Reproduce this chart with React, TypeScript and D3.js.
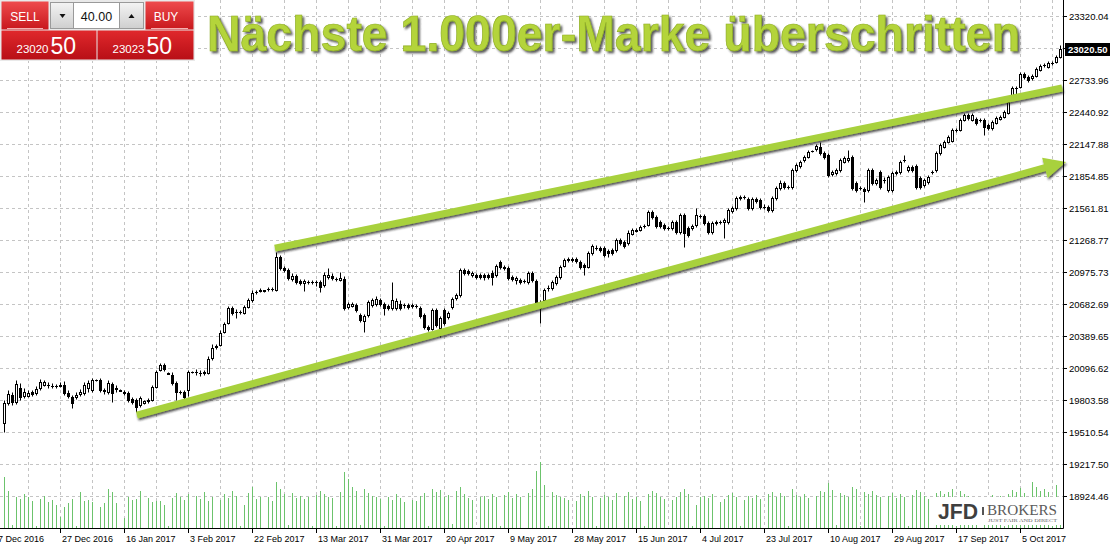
'use client';

import React, { useEffect, useRef } from 'react';
import * as d3 from 'd3';

// Daily bars (broker server days, Sunday sessions included), 8 Dec 2016 .. 17 Oct 2017
const opens = [
  19593, 19776, 19849, 19785, 19913, 19840, 19840, 19877, 19868, 19913,
  19941, 19941, 19932, 19932, 19932, 19941, 19868, 19831, 19831, 19859,
  19868, 19913, 19895, 19985, 19987, 19895, 19877, 19950, 19913, 19890,
  19877, 19868, 19813, 19804, 19758, 19780, 19795, 19804, 19923, 20078,
  20124, 20050, 20032, 19959, 19877, 19877, 19895, 20058, 20060, 20051,
  20051, 20051, 20188, 20298, 20307, 20426, 20509, 20646, 20610, 20610,
  20600, 20655, 20719, 20793, 20802, 20800, 20820, 20820, 20811, 21113,
  21012, 20994, 20912, 20939, 20893, 20875, 20884, 20884, 20884, 20884,
  20857, 20930, 20939, 20912, 20903, 20912, 20655, 20664, 20674, 20582,
  20527, 20582, 20674, 20683, 20719, 20683, 20664, 20646, 20646, 20683,
  20674, 20674, 20674, 20664, 20646, 20582, 20472, 20454, 20628, 20463,
  20628, 20564, 20655, 20738, 20765, 20994, 20985, 20948, 20948, 20948,
  20948, 20948, 20967, 20948, 21067, 21022, 21012, 20930, 20903, 20903,
  20893, 20884, 20967, 20893, 20701, 20719, 20829, 20829, 20875, 20930,
  21031, 21095, 21095, 21095, 21067, 21040, 21022, 21150, 21196, 21196,
  21196, 21168, 21177, 21177, 21269, 21251, 21241, 21324, 21351, 21360,
  21397, 21406, 21525, 21479, 21434, 21406, 21379, 21379, 21434, 21342,
  21498, 21379, 21379, 21406, 21489, 21489, 21424, 21342, 21424, 21434,
  21434, 21434, 21535, 21562, 21663, 21663, 21644, 21562, 21644, 21635,
  21571, 21571, 21544, 21653, 21745, 21791, 21754, 21754, 21910, 21947,
  22001, 22029, 22080, 22102, 22120, 22066, 22047, 21873, 21882, 21910,
  21983, 22001, 22029, 21791, 21745, 21736, 21727, 21910, 21791, 21892,
  21818, 21727, 21727, 21882, 21892, 22001, 21910, 21937, 21947, 21837,
  21772, 21800, 21892, 21910, 22066, 22120, 22166, 22175, 22276, 22276,
  22368, 22414, 22368, 22377, 22368, 22368, 22322, 22294, 22340, 22377,
  22395, 22432, 22597, 22661, 22670, 22789, 22761, 22752, 22771, 22826,
  22871, 22853, 22890, 22899, 22945,
];
const highs = [
  19804, 19895, 19877, 19987, 19959, 19913, 19895, 19895, 19932, 19996,
  19987, 19968, 19959, 19950, 19968, 19978, 19895, 19849, 19877, 19904,
  19968, 19987, 20005, 19998, 20005, 19913, 19987, 19968, 19941, 19900,
  19895, 19886, 19831, 19822, 19840, 19804, 19822, 19941, 20078, 20142,
  20142, 20060, 20060, 19978, 19895, 19895, 20078, 20070, 20087, 20078,
  20078, 20206, 20316, 20316, 20445, 20518, 20664, 20664, 20637, 20628,
  20674, 20738, 20811, 20811, 20829, 20815, 20838, 20838, 21159, 21132,
  21031, 21012, 20967, 20957, 20912, 20912, 20903, 20903, 20903, 20903,
  20976, 21012, 20967, 20930, 20976, 20939, 20701, 20701, 20692, 20600,
  20591, 20719, 20738, 20756, 20738, 20701, 20683, 20884, 20738, 20719,
  20692, 20692, 20692, 20683, 20664, 20600, 20490, 20646, 20646, 20573,
  20646, 20619, 20747, 20783, 21012, 21012, 21003, 20985, 20967, 20967,
  20967, 20967, 20994, 21049, 21086, 21040, 21031, 20948, 20939, 20921,
  20912, 20985, 20985, 20912, 20719, 20829, 20857, 20903, 20948, 21040,
  21104, 21113, 21113, 21113, 21086, 21058, 21168, 21232, 21223, 21214,
  21214, 21187, 21196, 21287, 21287, 21269, 21360, 21379, 21379, 21406,
  21415, 21544, 21544, 21498, 21452, 21424, 21397, 21452, 21452, 21516,
  21516, 21397, 21415, 21562, 21507, 21507, 21443, 21443, 21452, 21452,
  21470, 21562, 21580, 21672, 21681, 21681, 21663, 21663, 21663, 21653,
  21598, 21589, 21672, 21763, 21818, 21809, 21772, 21928, 21974, 22001,
  22047, 22093, 22095, 22148, 22166, 22084, 22066, 21910, 21928, 22020,
  22038, 22093, 22047, 21809, 21763, 21754, 21928, 21928, 21837, 21910,
  21846, 21864, 21901, 21910, 22001, 22047, 21956, 21956, 21965, 21855,
  21837, 21864, 21910, 22084, 22157, 22185, 22230, 22294, 22294, 22386,
  22432, 22432, 22432, 22395, 22386, 22386, 22340, 22368, 22404, 22414,
  22459, 22551, 22679, 22679, 22807, 22807, 22780, 22789, 22853, 22881,
  22890, 22908, 22908, 22963, 23054,
];
const lows = [
  19511, 19758, 19758, 19767, 19804, 19822, 19831, 19840, 19849, 19895,
  19932, 19913, 19913, 19913, 19923, 19849, 19822, 19730, 19813, 19840,
  19849, 19877, 19877, 19978, 19877, 19859, 19859, 19785, 19877, 19885,
  19849, 19785, 19767, 19694, 19740, 19770, 19776, 19795, 19913, 20069,
  20069, 20038, 19941, 19804, 19859, 19813, 19840, 20050, 20032, 20023,
  20032, 20042, 20170, 20271, 20298, 20417, 20500, 20582, 20555, 20591,
  20591, 20646, 20701, 20774, 20793, 20795, 20802, 20802, 20802, 20994,
  20976, 20903, 20893, 20866, 20857, 20802, 20866, 20866, 20847, 20793,
  20838, 20912, 20903, 20893, 20893, 20628, 20637, 20655, 20610, 20518,
  20426, 20564, 20655, 20664, 20664, 20582, 20628, 20628, 20628, 20628,
  20646, 20637, 20646, 20646, 20555, 20454, 20436, 20445, 20472, 20381,
  20490, 20545, 20637, 20719, 20747, 20948, 20948, 20930, 20912, 20912,
  20903, 20912, 20857, 20930, 21003, 20994, 20903, 20893, 20866, 20866,
  20875, 20866, 20884, 20683, 20509, 20701, 20802, 20811, 20857, 20912,
  21022, 21067, 21067, 21058, 21003, 20948, 21012, 21132, 21177, 21159,
  21113, 21113, 21132, 21159, 21223, 21196, 21223, 21315, 21342, 21351,
  21379, 21397, 21461, 21379, 21379, 21360, 21360, 21360, 21324, 21324,
  21205, 21296, 21360, 21388, 21470, 21406, 21324, 21324, 21406, 21415,
  21287, 21415, 21516, 21544, 21635, 21644, 21544, 21544, 21608, 21553,
  21553, 21525, 21525, 21635, 21727, 21736, 21736, 21736, 21892, 21928,
  21983, 22020, 22075, 22084, 22047, 22010, 21846, 21855, 21864, 21892,
  21974, 21983, 21727, 21708, 21727, 21617, 21708, 21772, 21772, 21736,
  21791, 21708, 21708, 21864, 21873, 21983, 21892, 21892, 21736, 21736,
  21754, 21782, 21873, 21892, 22047, 22111, 22157, 22166, 22258, 22267,
  22359, 22368, 22359, 22322, 22349, 22230, 22276, 22276, 22331, 22368,
  22386, 22423, 22587, 22597, 22661, 22743, 22716, 22734, 22761, 22816,
  22853, 22844, 22871, 22890, 22936,
];
const closes = [
  19776, 19859, 19785, 19950, 19831, 19877, 19868, 19859, 19904, 19968,
  19968, 19944, 19934, 19934, 19941, 19868, 19840, 19776, 19849, 19877,
  19941, 19959, 19987, 19990, 19895, 19886, 19959, 19868, 19904, 19895,
  19868, 19804, 19785, 19740, 19822, 19795, 19804, 19923, 20060, 20124,
  20087, 20045, 19959, 19877, 19880, 19831, 20060, 20062, 20062, 20053,
  20060, 20179, 20280, 20289, 20417, 20500, 20646, 20600, 20612, 20612,
  20655, 20719, 20783, 20795, 20811, 20810, 20822, 20822, 21113, 21012,
  20994, 20921, 20939, 20884, 20875, 20893, 20886, 20886, 20882, 20838,
  20948, 20948, 20921, 20910, 20921, 20646, 20683, 20683, 20628, 20536,
  20573, 20701, 20719, 20729, 20683, 20646, 20646, 20719, 20710, 20646,
  20676, 20655, 20664, 20666, 20573, 20472, 20454, 20628, 20490, 20555,
  20509, 20600, 20729, 20765, 20994, 20967, 20967, 20967, 20930, 20930,
  20930, 20930, 20930, 21031, 21022, 21012, 20921, 20912, 20921, 20884,
  20891, 20967, 20903, 20701, 20646, 20811, 20827, 20884, 20930, 21022,
  21086, 21086, 21086, 21077, 21022, 21022, 21150, 21214, 21194, 21177,
  21132, 21150, 21150, 21269, 21241, 21214, 21333, 21360, 21360, 21388,
  21395, 21525, 21479, 21397, 21397, 21379, 21377, 21434, 21342, 21498,
  21333, 21315, 21397, 21498, 21487, 21424, 21342, 21424, 21434, 21432,
  21452, 21544, 21562, 21653, 21653, 21661, 21562, 21644, 21626, 21571,
  21569, 21544, 21653, 21745, 21791, 21754, 21752, 21910, 21956, 21983,
  22029, 22074, 22088, 22130, 22066, 22029, 21864, 21892, 21910, 22001,
  22020, 22020, 21745, 21727, 21743, 21718, 21910, 21791, 21818, 21754,
  21816, 21846, 21882, 21892, 21983, 22003, 21937, 21910, 21754, 21754,
  21818, 21846, 21894, 22066, 22139, 22166, 22212, 22276, 22278, 22368,
  22414, 22386, 22414, 22340, 22366, 22304, 22294, 22349, 22386, 22395,
  22441, 22532, 22661, 22663, 22789, 22761, 22734, 22771, 22835, 22862,
  22873, 22890, 22892, 22945, 23020.5,
];
// tick volume (thousands)
const volumes = [
  50, 36, 2, 30, 28, 33, 30, 26, 1, 28, 31, 25, 27, 22,
  10, 20, 24, 28, 1, 35, 26, 27, 25, 0, 20, 24, 38, 35, 24, 0,
  9, 30, 27, 28, 36, 0, 29, 25, 26, 26, 22, 1, 29, 34,
  30, 27, 33,
  0, 31, 28, 35, 26, 30,
  0, 27, 33, 29, 36, 31,
  1, 22, 34, 40, 28, 30,
  0, 30, 26, 45, 38, 33,
  2, 34, 29, 31, 28, 30,
  1, 32, 36, 33, 30, 29,
  1, 35, 55, 48, 40, 36,
  2, 38, 34, 31, 30, 28,
  1, 30, 27, 33, 29, 25,
  0, 27, 26, 31, 34,
  1, 38, 35, 37, 30, 32,
  3, 36, 40, 33, 29, 27,
  0, 30, 31, 28, 33, 30,
  1, 32, 35, 29, 33, 30,
  0, 34, 38, 56, 65, 42,
  1, 35, 32, 30, 29, 27,
  0, 26, 33, 31, 36, 30,
  1, 29, 32, 30, 27, 34,
  0, 31, 35, 28, 30, 26,
  1, 33, 36, 34, 30, 28,
  0, 27, 30, 35, 38, 33,
  1, 22, 30, 31, 29, 33,
  0, 25, 28, 32, 34, 30,
  1, 27, 31, 29, 32, 28,
  0, 33, 35, 30, 34, 31,
  1, 38, 32, 30, 33, 29,
  0, 31, 36, 35, 44, 37,
  2, 34, 32, 30, 40, 38,
  1, 35, 33, 36, 32, 30,
  0, 31, 34, 29, 33, 30,
  1, 32, 37, 35, 31, 28,
  0, 34, 36, 33, 35, 38,
  1, 36, 33, 31, 30, 29,
  0, 30, 28, 32, 29, 31,
  1, 33, 37, 35, 39, 34,
  2, 45, 40, 36, 38, 35,
  1, 42, 30,
];

const priceTicks = [
  23320.04, 23027.0, 22733.96, 22440.92, 22147.88, 21854.85, 21561.81, 21268.77,
  20975.73, 20682.69, 20389.65, 20096.62, 19803.58, 19510.54, 19217.5, 18924.46,
];
const dateTickBars = [-2, 14, 30, 46, 62, 78, 94, 110, 126, 142, 158, 174, 190, 206, 222, 238, 254];
const dateLabels = [
  '7 Dec 2016', '27 Dec 2016', '16 Jan 2017', '3 Feb 2017', '22 Feb 2017', '13 Mar 2017',
  '31 Mar 2017', '20 Apr 2017', '9 May 2017', '28 May 2017', '15 Jun 2017', '4 Jul 2017',
  '23 Jul 2017', '10 Aug 2017', '29 Aug 2017', '17 Sep 2017', '5 Oct 2017',
];
const lastPrice = 23020.5;

// trend channel drawn by hand on the chart: [bar index, price]
const upperLine: [number, number][] = [[67.6, 21195], [264.4, 22661]];
const lowerArrow: [number, number][] = [[33.1, 19666], [265.4, 21983]];

const title = 'Nächste 1.000er-Marke überschritten';

// one-click trading panel
const lotSize = '40.00';
const sellQuote = ['23020', '50'];
const buyQuote = ['23023', '50'];

const FONT = '"Liberation Sans", Arial, sans-serif';

export default function App() {
  const svgRef = useRef<SVGSVGElement>(null);

  useEffect(() => {
    if (!svgRef.current) return;
    const svg = d3.select(svgRef.current);
    svg.selectAll('*').remove();

    const W = 1110, H = 546;
    const axisX = 1063.5, axisY = 528.5;
    const n = closes.length;

    const x = d3.scaleLinear().domain([0, n - 1]).range([4.5, 1060.5]);
    const y = d3.scaleLinear().domain([18924.46, 23320.04]).range([496, 16]);
    const v = d3.scaleLinear().domain([0, 65]).range([527, 462]);
    const cx = (i: number) => Math.floor(x(i)) + 0.5;
    const cy = (p: number) => Math.round(y(p)) + 0.5;
    const fmt = d3.format('.2f');

    const defs = svg.append('defs');
    defs.append('filter').attr('id', 'lineShadow')
      .attr('x', '-5%').attr('y', '-30%').attr('width', '110%').attr('height', '160%')
      .append('feDropShadow')
      .attr('dx', 1).attr('dy', 2).attr('stdDeviation', 1.2)
      .attr('flood-color', '#1c1c1c').attr('flood-opacity', 0.75);
    defs.append('filter').attr('id', 'titleShadow')
      .attr('x', '-5%').attr('y', '-20%').attr('width', '110%').attr('height', '150%')
      .append('feDropShadow')
      .attr('dx', 2).attr('dy', 2).attr('stdDeviation', 1.2)
      .attr('flood-color', '#333').attr('flood-opacity', 0.8);

    const grad = (id: string, stops: [number, string][]) => {
      const g = defs.append('linearGradient').attr('id', id)
        .attr('x1', 0).attr('y1', 0).attr('x2', 0).attr('y2', 1);
      stops.forEach(([o, c]) => g.append('stop').attr('offset', o).attr('stop-color', c));
    };
    grad('redTop', [[0, '#ee4a4c'], [1, '#c8181d']]);
    grad('redBottom', [[0, '#e0282c'], [1, '#b80f16']]);
    grad('grayBtn', [[0, '#f4f4f4'], [1, '#cfcfcf']]);

    svg.append('rect').attr('width', W).attr('height', H).attr('fill', '#fff');

    // Dashed grid
    const grid = svg.append('g')
      .attr('stroke', '#c4c4c4').attr('stroke-width', 1).attr('stroke-dasharray', '3,3');
    grid.selectAll('.gh').data(priceTicks).join('line').attr('class', 'gh')
      .attr('x1', 0).attr('x2', axisX).attr('y1', d => cy(d)).attr('y2', d => cy(d));
    grid.selectAll('.gv').data(d3.range(6, n, 8)).join('line').attr('class', 'gv')
      .attr('x1', d => cx(d)).attr('x2', d => cx(d)).attr('y1', 0).attr('y2', axisY);

    // Volumes
    svg.append('g').attr('fill', '#6cc36c')
      .selectAll('rect').data(volumes).join('rect')
      .attr('x', (d, i) => Math.floor(x(i)))
      .attr('y', d => Math.round(v(d)))
      .attr('width', 1)
      .attr('height', d => (d > 0 ? 528 - Math.round(v(d)) : 0));

    // Broker logo (white plate over the volume bars)
    const logo = svg.append('g');
    logo.append('rect').attr('x', 935).attr('y', 497).attr('width', 128).attr('height', 28).attr('fill', '#fff');
    logo.append('text').attr('x', 938).attr('y', 518.5)
      .attr('font-family', FONT).attr('font-weight', 'bold').attr('font-size', 22)
      .attr('fill', '#3f3f3f').attr('textLength', 40).attr('lengthAdjust', 'spacingAndGlyphs').text('JFD');
    logo.append('rect').attr('x', 982).attr('y', 507).attr('width', 2).attr('height', 8).attr('fill', '#555');
    logo.append('text').attr('x', 987).attr('y', 514.5)
      .attr('font-family', '"Liberation Serif", "Times New Roman", serif').attr('font-size', 15.5)
      .attr('fill', '#5a5a5a').attr('textLength', 70).attr('lengthAdjust', 'spacingAndGlyphs').text('BROKERS');
    logo.append('text').attr('x', 988).attr('y', 521.5)
      .attr('font-family', '"Liberation Serif", "Times New Roman", serif').attr('font-size', 4.2)
      .attr('fill', '#666').attr('textLength', 69).attr('lengthAdjust', 'spacingAndGlyphs').text('JUST FAIR AND DIRECT');

    // Candles
    const candles = svg.append('g');
    closes.forEach((c, i) => {
      const o = opens[i];
      const px = cx(i);
      candles.append('line')
        .attr('x1', px).attr('x2', px).attr('y1', cy(highs[i])).attr('y2', cy(lows[i]))
        .attr('stroke', '#000').attr('stroke-width', 1);
      const top = Math.round(y(Math.max(o, c)));
      const bot = Math.round(y(Math.min(o, c)));
      if (bot - top < 1) {
        candles.append('line')
          .attr('x1', px - 1.5).attr('x2', px + 1.5).attr('y1', top + 0.5).attr('y2', top + 0.5)
          .attr('stroke', '#000');
      } else {
        candles.append('rect')
          .attr('x', px - 1).attr('y', top + 0.5).attr('width', 2).attr('height', bot - top)
          .attr('fill', c >= o ? '#fff' : '#000').attr('stroke', '#000').attr('stroke-width', 1);
      }
    });

    // Hand-drawn trend channel
    const green = '#a8d13c';
    const lines = svg.append('g').attr('filter', 'url(#lineShadow)');
    lines.append('line')
      .attr('x1', x(upperLine[0][0])).attr('y1', y(upperLine[0][1]))
      .attr('x2', x(upperLine[1][0])).attr('y2', y(upperLine[1][1]))
      .attr('stroke', green).attr('stroke-width', 7);
    const p0 = [x(lowerArrow[0][0]), y(lowerArrow[0][1])];
    const p1 = [x(lowerArrow[1][0]), y(lowerArrow[1][1])];
    const len = Math.hypot(p1[0] - p0[0], p1[1] - p0[1]);
    const ux = (p1[0] - p0[0]) / len, uy = (p1[1] - p0[1]) / len;
    const headL = 22, headW = 10.5;
    const bx = p1[0] - ux * headL, by = p1[1] - uy * headL;
    const arrow = lines.append('g');
    arrow.append('line')
      .attr('x1', p0[0]).attr('y1', p0[1]).attr('x2', bx + ux * 3).attr('y2', by + uy * 3)
      .attr('stroke', green).attr('stroke-width', 7);
    arrow.append('polygon')
      .attr('points', [
        [p1[0], p1[1]],
        [bx - uy * headW, by + ux * headW],
        [bx + uy * headW, by - ux * headW],
      ].map(p => p.join(',')).join(' '))
      .attr('fill', green);

    // Headline
    svg.append('text')
      .attr('x', 207).attr('y', 51)
      .attr('font-family', FONT).attr('font-weight', 'bold').attr('font-size', 50)
      .attr('textLength', 813).attr('lengthAdjust', 'spacingAndGlyphs')
      .attr('fill', '#b4d43a').attr('stroke', '#8fae25').attr('stroke-width', 0.7)
      .attr('filter', 'url(#titleShadow)')
      .text(title);

    // Trading panel
    const panel = svg.append('g').attr('font-family', FONT);
    panel.append('rect').attr('x', 0).attr('y', 0).attr('width', 195).attr('height', 61).attr('fill', '#e9e9e9');
    panel.append('rect').attr('x', 1.5).attr('y', 1.5).attr('width', 47).attr('height', 28).attr('fill', 'url(#redTop)');
    panel.append('rect').attr('x', 145.5).attr('y', 1.5).attr('width', 48).attr('height', 28).attr('fill', 'url(#redTop)');
    panel.append('rect').attr('x', 1.5).attr('y', 30.5).attr('width', 95).attr('height', 29).attr('fill', 'url(#redBottom)');
    panel.append('rect').attr('x', 97.5).attr('y', 30.5).attr('width', 96).attr('height', 29).attr('fill', 'url(#redBottom)');
    panel.append('line').attr('x1', 7).attr('x2', 43).attr('y1', 28.5).attr('y2', 28.5).attr('stroke', '#f6b0b0');
    panel.append('line').attr('x1', 151).attr('x2', 188).attr('y1', 28.5).attr('y2', 28.5).attr('stroke', '#f6b0b0');
    panel.append('rect').attr('x', 50.5).attr('y', 2.5).attr('width', 23).attr('height', 26)
      .attr('fill', 'url(#grayBtn)').attr('stroke', '#9a9a9a');
    panel.append('rect').attr('x', 119.5).attr('y', 2.5).attr('width', 24).attr('height', 26)
      .attr('fill', 'url(#grayBtn)').attr('stroke', '#9a9a9a');
    panel.append('rect').attr('x', 73.5).attr('y', 2.5).attr('width', 46).attr('height', 26)
      .attr('fill', '#fff').attr('stroke', '#9a9a9a');
    panel.append('polygon').attr('points', '59.5,14 65.5,14 62.5,18').attr('fill', '#111');
    panel.append('polygon').attr('points', '128.5,18 134.5,18 131.5,14').attr('fill', '#111');
    panel.append('text').attr('x', 96.5).attr('y', 20.5).attr('text-anchor', 'middle')
      .attr('font-size', 12.5).attr('fill', '#111').text(lotSize);
    panel.append('text').attr('x', 25).attr('y', 20.5).attr('text-anchor', 'middle')
      .attr('font-size', 12).attr('fill', '#fff').text('SELL');
    panel.append('text').attr('x', 166).attr('y', 20.5).attr('text-anchor', 'middle')
      .attr('font-size', 12).attr('fill', '#fff').text('BUY');
    [[sellQuote, 16.5], [buyQuote, 112.5]].forEach(([q, qx]) => {
      const [big, pips] = q as string[];
      panel.append('text').attr('x', qx as number).attr('y', 53).attr('font-size', 11.5)
        .attr('fill', '#fff').text(big);
      panel.append('text').attr('x', (qx as number) + 34).attr('y', 53.5).attr('font-size', 23)
        .attr('fill', '#fff').text(pips);
    });

    // Price axis (the 23027.00 label sits under the last-price marker, so it is not written)
    const lp = Math.round(y(lastPrice));
    svg.append('line').attr('x1', axisX).attr('x2', axisX).attr('y1', 0).attr('y2', axisY).attr('stroke', '#000');
    const yAxis = svg.append('g')
      .attr('transform', `translate(${axisX - 0.5},0)`)
      .call(d3.axisRight(y).tickValues(priceTicks).tickSize(4).tickPadding(2).tickFormat(d => fmt(+d)));
    yAxis.select('.domain').remove();
    yAxis.selectAll<SVGGElement, number>('.tick')
      .filter(d => Math.abs(y(d) - lp) < 10)
      .select('text').remove();
    yAxis.selectAll('text').attr('font-family', FONT).attr('font-size', 9.5).attr('fill', '#000');
    yAxis.selectAll('line').attr('stroke', '#000');

    // Last price marker
    svg.append('rect').attr('x', 1065).attr('y', lp - 6).attr('width', 45).attr('height', 13).attr('fill', '#000');
    svg.append('text').attr('x', 1068).attr('y', lp + 4)
      .attr('font-family', FONT).attr('font-size', 9.5).attr('font-weight', 'bold').attr('fill', '#fff')
      .text(fmt(lastPrice));

    // Time axis
    svg.append('line').attr('x1', 0).attr('x2', axisX).attr('y1', axisY).attr('y2', axisY).attr('stroke', '#000');
    const xAxis = svg.append('g').attr('font-family', FONT).attr('font-size', 9).attr('fill', '#000');
    dateTickBars.forEach((b, k) => {
      const tx = cx(b);
      xAxis.append('line').attr('x1', tx).attr('x2', tx).attr('y1', axisY).attr('y2', axisY + 4.5).attr('stroke', '#000');
      xAxis.append('text').attr('x', tx + 1.5).attr('y', 541.5).text(dateLabels[k]);
    });
  }, []);

  return (
    <svg
      ref={svgRef}
      width={1110}
      height={546}
      style={{ position: 'absolute', left: 0, top: 0, display: 'block' }}
    />
  );
}
